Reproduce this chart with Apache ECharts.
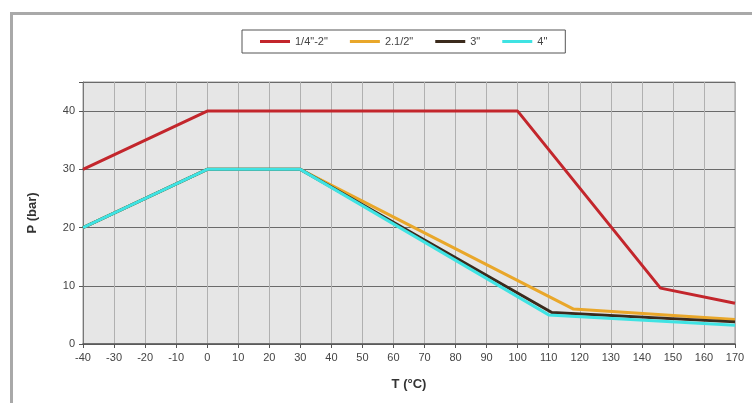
<!DOCTYPE html>
<html>
<head>
<meta charset="utf-8">
<script src="https://cdn.jsdelivr.net/npm/echarts@6/dist/echarts.min.js"></script>
<style>
html,body{margin:0;padding:0;background:#fff;}
#chart{width:752px;height:403px;}
</style>
</head>
<body>
<div id="chart"></div>
<script>
const seriesNames = ['1/4"-2"', '2.1/2"', '3"', '4"'];
const red14_2 = [[-40,30],[0,40],[100,40],[146,9.6],[170,7]];
const orange2_12 = [[-40,20],[0,30],[30,30],[118,6],[170,4.2]];
const black3 = [[-40,20],[0,30],[30,30],[111,5.4],[170,3.8]];
const cyan4 = [[-40,20],[0,30],[30,30],[110,5],[170,3.2]];
const seriesData = [red14_2, orange2_12, black3, cyan4];
const colors = ['#c3262c', '#e9a72a', '#3b2a1c', '#3fe3e3'];

const chart = echarts.init(document.getElementById('chart'), null, {renderer:'canvas'});
chart.setOption({
  animation: false,
  color: colors,
  graphic: [{
    type: 'rect', left: 10, top: 12, z: -10,
    shape: {x: 0, y: 0, width: 760, height: 400},
    style: {fill: '#fff', stroke: '#a9a9a9', lineWidth: 3}
  }],
  legend: {
    top: 30, left: 242,
    itemWidth: 30, itemHeight: 3, itemGap: 22,
    icon: 'rect',
    padding: [6, 18, 6, 18],
    borderColor: '#555', borderWidth: 1,
    textStyle: {fontFamily: 'Liberation Sans', fontSize: 11, color: '#444'},
    data: seriesNames
  },
  grid: {left: 83, right: 17, top: 82, bottom: 59, show: true, backgroundColor: '#e6e6e6', borderColor: '#9a9a9a', borderWidth: 1},
  xAxis: {
    type: 'value', min: -40, max: 170, interval: 10,
    name: 'T (°C)', nameLocation: 'middle', nameGap: 34,
    nameTextStyle: {fontFamily: 'Liberation Sans', fontSize: 13, fontWeight: 'bold', color: '#333'},
    axisLine: {show: true, onZero: false, lineStyle: {color: '#555', width: 1.5}},
    axisTick: {show: true, length: 4, lineStyle: {color: '#555'}},
    axisLabel: {fontFamily: 'Liberation Sans', fontSize: 11, color: '#444', margin: 8},
    splitLine: {show: true, lineStyle: {color: '#b0b0b0', width: 1}}
  },
  yAxis: {
    type: 'value', min: 0, max: 45, interval: 10,
    name: 'P (bar)', nameLocation: 'middle', nameGap: 44, nameRotate: 90,
    nameTextStyle: {fontFamily: 'Liberation Sans', fontSize: 13, fontWeight: 'bold', color: '#333'},
    axisLine: {show: true, onZero: false, lineStyle: {color: '#777', width: 1}},
    axisTick: {show: true, length: 4, lineStyle: {color: '#555'}},
    axisLabel: {fontFamily: 'Liberation Sans', fontSize: 11, color: '#444', margin: 8,
      formatter: v => (v % 10 === 0 ? String(v) : '')},
    splitLine: {show: true, lineStyle: {color: '#6a6a6a', width: 1.2}}
  },
  series: seriesNames.map((n, i) => ({
    name: n, type: 'line', data: seriesData[i],
    symbol: 'none', z: 2 + i,
    lineStyle: {width: 3, color: colors[i]}
  }))
});
</script>
</body>
</html>
